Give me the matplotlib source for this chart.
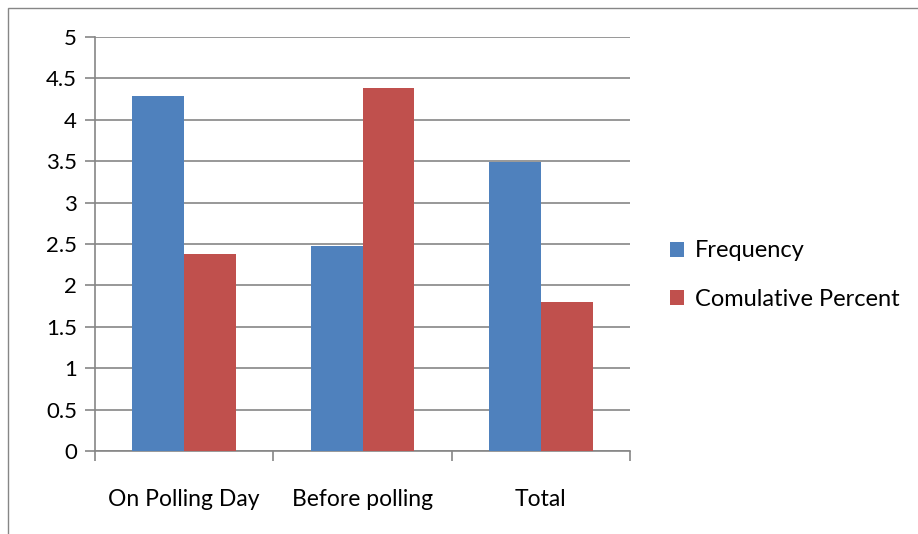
import numpy as np
import matplotlib.pyplot as plt
from matplotlib.patches import Rectangle

categories = ["On Polling Day", "Before polling", "Total"]
frequency = [4.29, 2.48, 3.49]
cumulative = [2.38, 4.38, 1.80]
series_names = ["Frequency", "Comulative Percent"]
yticks = [0, 0.5, 1, 1.5, 2, 2.5, 3, 3.5, 4, 4.5, 5]
ytick_labels = ["0", "0.5", "1", "1.5", "2", "2.5", "3", "3.5", "4", "4.5", "5"]

blue = "#4F81BD"
red = "#C0504D"
grey = "#868686"

plt.rcParams['font.family'] = ['Lato', 'DejaVu Sans']

fig = plt.figure(figsize=(9.18, 5.34), dpi=100)
W, H = 918, 534
ax = fig.add_axes([95 / W, (534 - 451) / H, (630 - 95) / W, (451 - 37) / H])

x = np.arange(len(categories))
w = 0.29
ax.bar(x - w / 2, frequency, w, color=blue, label=series_names[0], zorder=3)
ax.bar(x + w / 2, cumulative, w, color=red, label=series_names[1], zorder=3)

ax.set_xlim(-0.5, 2.5)
ax.set_ylim(0, 5)
ax.set_yticks(yticks)
ax.set_yticklabels(ytick_labels, fontsize=16)
ax.set_xticks(x)
ax.set_xticklabels(categories, fontsize=16.5)
ax.tick_params(axis='x', length=0, pad=27)
ax.tick_params(axis='y', length=7, color=grey, width=1.2, pad=6)
# category boundary ticks
ax.set_xticks([-0.5, 0.5, 1.5, 2.5], minor=True)
ax.tick_params(axis='x', which='minor', length=7, color=grey, width=1.2)

ax.grid(axis='y', color=grey, linewidth=1.2, zorder=0)
for s in ['top', 'right']:
    ax.spines[s].set_visible(False)
for s in ['left', 'bottom']:
    ax.spines[s].set_color(grey)
    ax.spines[s].set_linewidth(1.2)

ax.legend(loc='center left', bbox_to_anchor=(1.035, 0.425), frameon=False,
          fontsize=17, handlelength=0.6, handleheight=0.6, labelspacing=1.15,
          handletextpad=0.45)

fig.patches.append(Rectangle((8 / W, -0.01), (W + 20) / W, 1 - 8 / H + 0.01,
                             transform=fig.transFigure, fill=False,
                             edgecolor=grey, linewidth=1.0))

fig.savefig("out.png", dpi=100)
